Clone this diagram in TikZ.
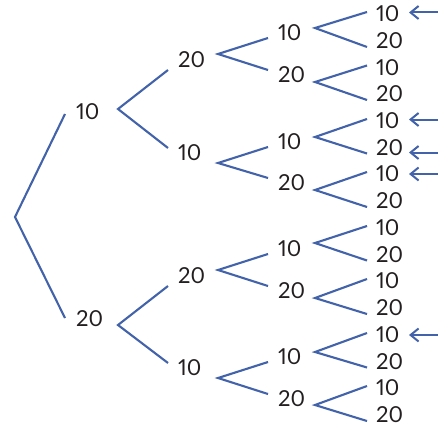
\documentclass[tikz,border=0pt]{standalone}
\usepackage{fontspec}
\setmainfont{Lato}[Numbers=Proportional]
\usepackage{xcolor}
\usepackage{tikz}
\usetikzlibrary{calc,arrows.meta}
\definecolor{treeblue}{RGB}{66,98,170}
\definecolor{labelgray}{RGB}{35,31,32}
\tikzset{
  branch/.style={treeblue,line width=2.1pt},
  lbl/.style={anchor=west,inner sep=0pt,text=labelgray,font=\fontsize{22}{26}\selectfont},
  pointer/.style={treeblue,line width=2pt,-{Straight Barb[length=8pt,width=13pt]}}
}

\begin{document}
\begin{tikzpicture}[x=1pt,y=-1pt]
\useasboundingbox (0,0) rectangle (438,428);
  % first draw
  \node[lbl] (a) at (76,112) {10};
  \node[lbl] (b) at (76,319) {20};
  \coordinate (v0) at (15,217);
  \draw[branch] ($(a.west)+(-11,2)$) -- (v0) -- ($(b.west)+(-11,-1)$);
  % second draw
  \node[lbl] (c1) at (178,60) {20};
  \node[lbl] (c2) at (178,153) {10};
  \node[lbl] (c3) at (178,276) {20};
  \node[lbl] (c4) at (178,368) {10};
  \coordinate (v1) at (118,109);
  \coordinate (v2) at (118,325);
  \draw[branch] ($(c1.west)+(-10,10)$) -- (v1) -- ($(c2.west)+(-10,-5)$);
  \draw[branch] ($(c3.west)+(-10,10)$) -- (v2) -- ($(c4.west)+(-10,-5)$);
  % third draw
  \node[lbl] (d1) at (278,33) {10};
  \node[lbl] (d2) at (278,75) {20};
  \node[lbl] (d3) at (278,142) {10};
  \node[lbl] (d4) at (278,183) {20};
  \node[lbl] (d5) at (278,249) {10};
  \node[lbl] (d6) at (278,291) {20};
  \node[lbl] (d7) at (278,357) {10};
  \node[lbl] (d8) at (278,399) {20};
  \coordinate (w1) at (218,54);
  \coordinate (w2) at (218,163);
  \coordinate (w3) at (218,270);
  \coordinate (w4) at (218,378);
  \draw[branch] ($(d1.west)+(-10,5)$) -- (w1) -- ($(d2.west)+(-10,-5)$);
  \draw[branch] ($(d3.west)+(-10,5)$) -- (w2) -- ($(d4.west)+(-10,-5)$);
  \draw[branch] ($(d5.west)+(-10,5)$) -- (w3) -- ($(d6.west)+(-10,-5)$);
  \draw[branch] ($(d7.west)+(-10,5)$) -- (w4) -- ($(d8.west)+(-10,-5)$);
  % fourth draw
  \node[lbl] (e1) at (376,14) {10};
  \node[lbl] (e2) at (376,41) {20};
  \node[lbl] (e3) at (376,67.5) {10};
  \node[lbl] (e4) at (376,94) {20};
  \node[lbl] (e5) at (376,121) {10};
  \node[lbl] (e6) at (376,147.5) {20};
  \node[lbl] (e7) at (376,174) {10};
  \node[lbl] (e8) at (376,201) {20};
  \node[lbl] (e9) at (376,228) {10};
  \node[lbl] (e10) at (376,254.5) {20};
  \node[lbl] (e11) at (376,281) {10};
  \node[lbl] (e12) at (376,308) {20};
  \node[lbl] (e13) at (376,335) {10};
  \node[lbl] (e14) at (376,361.5) {20};
  \node[lbl] (e15) at (376,388) {10};
  \node[lbl] (e16) at (376,415) {20};
  \coordinate (u1) at (315,28);
  \coordinate (u2) at (315,82);
  \coordinate (u3) at (315,137);
  \coordinate (u4) at (315,190);
  \coordinate (u5) at (315,243);
  \coordinate (u6) at (315,298);
  \coordinate (u7) at (315,352);
  \coordinate (u8) at (315,405);
  \draw[branch] ($(e1.west)+(-9,-2)$) -- (u1) -- ($(e2.west)+(-9,6)$);
  \draw[branch] ($(e3.west)+(-9,-2)$) -- (u2) -- ($(e4.west)+(-9,6)$);
  \draw[branch] ($(e5.west)+(-9,-2)$) -- (u3) -- ($(e6.west)+(-9,6)$);
  \draw[branch] ($(e7.west)+(-9,-2)$) -- (u4) -- ($(e8.west)+(-9,6)$);
  \draw[branch] ($(e9.west)+(-9,-2)$) -- (u5) -- ($(e10.west)+(-9,6)$);
  \draw[branch] ($(e11.west)+(-9,-2)$) -- (u6) -- ($(e12.west)+(-9,6)$);
  \draw[branch] ($(e13.west)+(-9,-2)$) -- (u7) -- ($(e14.west)+(-9,6)$);
  \draw[branch] ($(e15.west)+(-9,-2)$) -- (u8) -- ($(e16.west)+(-9,6)$);
  % arrows
  \coordinate (rim) at (438,0);
  \coordinate (aim) at (409,0);
  \draw[pointer] ([yshift=1.5pt]e1.east -| rim) -- ([yshift=1.5pt]e1.east -| aim);
  \draw[pointer] ([yshift=1.5pt]e5.east -| rim) -- ([yshift=1.5pt]e5.east -| aim);
  \draw[pointer] ([yshift=-5pt]e6.east -| rim) -- ([yshift=-5pt]e6.east -| aim);
  \draw[pointer] (e7.east -| rim) -- (e7.east -| aim);
  \draw[pointer] (e13.east -| rim) -- (e13.east -| aim);
\end{tikzpicture}
\end{document}
